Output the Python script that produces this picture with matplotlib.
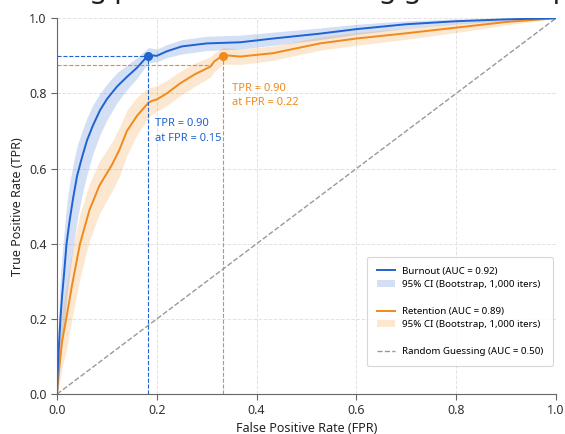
import matplotlib
matplotlib.use("Agg")
import matplotlib.pyplot as plt
from matplotlib.lines import Line2D
from matplotlib.patches import Patch

plt.rcParams['font.family'] = ['Noto Sans', 'DejaVu Sans']

# burnout model ROC
burn_fpr = [0, .001, .003, .005, .007, .01, .014, .019, .025, .032, .04, .05, .06, .072, .086, .1,
            .12, .14, .16, .183, .2, .22, .25, .3, .367, .433, .527, .6, .7, .8, .9, 1]
burn_tpr = [0, .05, .11, .16, .205, .26, .32, .40, .46, .52, .58, .63, .675, .715, .755, .785,
            .818, .844, .868, .902, .900, .912, .925, .933, .936, .946, .959, .971, .984, .992, .997, 1]
burn_lo = [0, .01, .03, .06, .09, .13, .18, .25, .32, .39, .46, .53, .585, .64, .69, .73,
           .775, .81, .84, .882, .884, .895, .905, .914, .918, .928, .943, .957, .973, .985, .993, 1]
burn_hi = [0, .12, .21, .27, .32, .37, .43, .50, .56, .61, .66, .70, .735, .77, .80, .825,
           .855, .875, .895, .922, .918, .93, .943, .952, .955, .963, .974, .984, .993, .998, 1, 1]

# retention model ROC
ret_fpr = [0, .002, .005, .01, .019, .03, .046, .065, .085, .11, .125, .14, .16, .183, .19, .2,
           .22, .246, .275, .307, .315, .333, .367, .433, .527, .6, .7, .8, .9, 1]
ret_tpr = [0, .04, .08, .14, .205, .29, .40, .49, .555, .61, .65, .70, .74, .775, .78, .784,
           .80, .826, .85, .871, .885, .902, .898, .907, .933, .946, .96, .975, .99, 1]
ret_lo = [0, .01, .03, .07, .12, .20, .31, .41, .48, .54, .58, .635, .69, .735, .745, .752,
          .768, .793, .818, .843, .858, .878, .877, .888, .915, .928, .944, .962, .982, 1]
ret_hi = [0, .09, .15, .22, .29, .38, .48, .56, .62, .67, .71, .755, .79, .815, .817, .82,
          .835, .858, .88, .897, .907, .922, .918, .926, .95, .962, .974, .987, .996, 1]

burn_point = (0.183, 0.90)
ret_point = (0.333, 0.90)
ret_hline = 0.875

labels = ['Burnout (AUC = 0.92)', '95% CI (Bootstrap, 1,000 iters)',
          'Retention (AUC = 0.89)', '95% CI (Bootstrap, 1,000 iters)',
          'Random Guessing (AUC = 0.50)']

blue = '#1f62d0'
orange = '#f08a1c'

fig = plt.figure(figsize=(5.65, 4.34), dpi=100)
ax = fig.add_axes([0.101, 0.092, 0.883, 0.866])

# title is cropped by the top edge in the reference, only descenders show
fig.text(0.03, 1.006, 'Strong performance and big gains on top',
         ha='left', va='baseline', fontsize=20.5, color='#222222')

ax.fill_between(burn_fpr, burn_lo, burn_hi, color=blue, alpha=0.2, lw=0)
ax.fill_between(ret_fpr, ret_lo, ret_hi, color=orange, alpha=0.2, lw=0)
ax.plot([0, 1], [0, 1], ls='--', color='#999999', lw=1)
ax.plot(ret_fpr, ret_tpr, color=orange, lw=1.4)
ax.plot(burn_fpr, burn_tpr, color=blue, lw=1.4)

# operating points
ax.plot([0, burn_point[0]], [burn_point[1]] * 2, ls='--', color=blue, lw=0.8)
ax.plot([burn_point[0]] * 2, [0, burn_point[1]], ls='--', color=blue, lw=0.8)
ax.plot([0, 0.31], [ret_hline] * 2, ls='--', color=orange, lw=0.8)
ax.plot([ret_point[0]] * 2, [0, ret_point[1]], ls='--', color=orange, lw=0.8)
ax.plot(*burn_point, 'o', color=blue, ms=5.5, zorder=5)
ax.plot(*ret_point, 'o', color=orange, ms=5.5, zorder=5)

ax.text(0.196, 0.700, 'TPR = 0.90\nat FPR = 0.15', color=blue, fontsize=8,
        va='center', linespacing=1.45)
ax.text(0.351, 0.794, 'TPR = 0.90\nat FPR = 0.22', color=orange, fontsize=8,
        va='center', linespacing=1.45)

ax.set_xlim(0, 1)
ax.set_ylim(0, 1)
ax.set_xticks([0, 0.2, 0.4, 0.6, 0.8, 1.0])
ax.set_yticks([0, 0.2, 0.4, 0.6, 0.8, 1.0])
ax.grid(True, ls='--', color='#e2e2e2', lw=0.7)
ax.set_axisbelow(True)
for s in ['top', 'right']:
    ax.spines[s].set_visible(False)
for s in ['left', 'bottom']:
    ax.spines[s].set_color('#666666')
ax.tick_params(labelsize=9, colors='#333333', length=4, color='#666666')
ax.set_xlabel('False Positive Rate (FPR)', fontsize=9, color='#222222', labelpad=3)
ax.set_ylabel('True Positive Rate (TPR)', fontsize=9, color='#222222', labelpad=4)

blank = Patch(color='none')
handles = [Line2D([], [], color=blue, lw=1.4), Patch(color=blue, alpha=0.2, lw=0), blank,
           Line2D([], [], color=orange, lw=1.4), Patch(color=orange, alpha=0.2, lw=0), blank,
           Line2D([], [], color='#999999', ls='--', lw=1)]
texts = [labels[0], labels[1], '', labels[2], labels[3], '', labels[4]]
leg = ax.legend(handles, texts, loc='lower right', bbox_to_anchor=(0.994, 0.074),
                borderaxespad=0, fontsize=7, labelspacing=0.45, handlelength=1.8,
                handletextpad=0.7, frameon=True, fancybox=True, edgecolor='#cccccc',
                borderpad=1.05)
leg.get_frame().set_linewidth(0.8)

fig.savefig('out.png', dpi=100)
